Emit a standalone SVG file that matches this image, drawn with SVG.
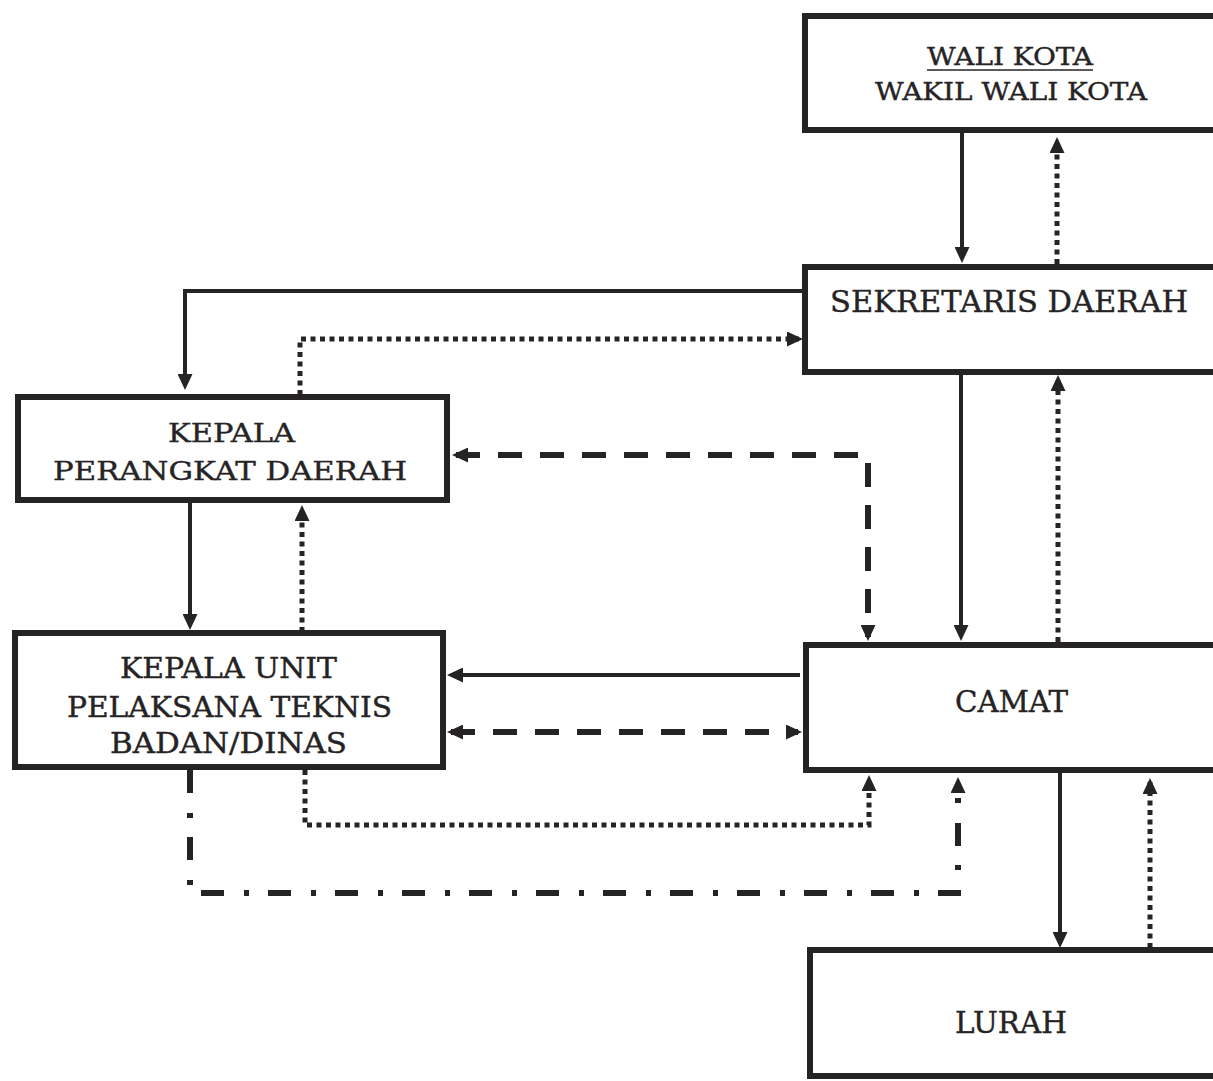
<svg xmlns="http://www.w3.org/2000/svg" width="1213" height="1081" viewBox="0 0 1213 1081">
<style>
.box{fill:#fff;stroke:#262324;stroke-width:6;stroke-linejoin:miter}
.t{font-family:"DejaVu Serif","Liberation Serif",serif;fill:#262324;stroke:#262324;stroke-width:0.4;text-anchor:middle}
.c{fill:none;stroke:#262324}
.solid{stroke-width:4}
.dot{stroke-width:5;stroke-dasharray:5 4.5}
.dash{stroke-width:6;stroke-dasharray:24 18}
.dd{stroke-width:6;stroke-dasharray:23 20 5 19}
.a{marker-end:url(#ah)}
.b{marker-start:url(#ah);marker-end:url(#ah)}
</style>
<defs>
<marker id="ah" markerUnits="userSpaceOnUse" markerWidth="16" markerHeight="15" refX="12" refY="7.5" orient="auto-start-reverse" viewBox="0 0 16 15">
<path d="M0,0 L16,7.5 L0,15 z" fill="#262324"/>
</marker>
</defs>
<rect width="1213" height="1081" fill="#fff"/>
<g id="connectors">
<path class="c solid a" d="M962,133 V259"/>
<path class="c dot a" d="M1057,264 V141"/>
<path class="c solid a" d="M803,291 H185 V386"/>
<path class="c dot a" d="M300,395 V339 H799"/>
<path class="c solid a" d="M961,373 V637"/>
<path class="c dot a" d="M1058,642 V379"/>
<path class="c dash b" d="M456,455 H868 V637"/>
<path class="c solid a" d="M190,503 V626"/>
<path class="c dot a" d="M302,632 V509"/>
<path class="c solid a" d="M800,675 H451"/>
<path class="c dash b" d="M451,732 H798"/>
<path class="c dot a" d="M305,770 V825 H869 V779"/>
<path class="c dd a" d="M190,770 V893 H958 V781"/>
<path class="c solid a" d="M1060,773 V944"/>
<path class="c dot a" d="M1150,948 V782"/>
</g>
<g id="wali-kota">
<rect class="box" x="805" y="16" width="430" height="114"/>
<text class="t" x="1010" y="65" font-size="25" textLength="166" lengthAdjust="spacingAndGlyphs">WALI KOTA</text>
<line x1="927" y1="70" x2="1093" y2="70" stroke="#262324" stroke-width="1.5"/>
<text class="t" x="1011" y="100" font-size="25" textLength="272" lengthAdjust="spacingAndGlyphs">WAKIL WALI KOTA</text>
</g>
<g id="sekretaris-daerah">
<rect class="box" x="805" y="267" width="430" height="105"/>
<text class="t" x="1009" y="312" font-size="30" textLength="358" lengthAdjust="spacingAndGlyphs">SEKRETARIS DAERAH</text>
</g>
<g id="kepala-perangkat-daerah">
<rect class="box" x="18" y="397" width="429" height="103"/>
<text class="t" x="231.5" y="442" font-size="26" textLength="127" lengthAdjust="spacingAndGlyphs">KEPALA</text>
<text class="t" x="230" y="480" font-size="26" textLength="354" lengthAdjust="spacingAndGlyphs">PERANGKAT DAERAH</text>
</g>
<g id="kepala-upt">
<rect class="box" x="15" y="633" width="428" height="134"/>
<text class="t" x="228.5" y="678" font-size="28" textLength="217" lengthAdjust="spacingAndGlyphs">KEPALA UNIT</text>
<text class="t" x="229.5" y="717" font-size="28" textLength="325" lengthAdjust="spacingAndGlyphs">PELAKSANA TEKNIS</text>
<text class="t" x="228.5" y="753" font-size="28" textLength="237" lengthAdjust="spacingAndGlyphs">BADAN/DINAS</text>
</g>
<g id="camat">
<rect class="box" x="806" y="645" width="430" height="125"/>
<text class="t" x="1011.5" y="712" font-size="30" textLength="113" lengthAdjust="spacingAndGlyphs">CAMAT</text>
</g>
<g id="lurah">
<rect class="box" x="810" y="950" width="426" height="126"/>
<text class="t" x="1011" y="1033" font-size="29" textLength="112" lengthAdjust="spacingAndGlyphs">LURAH</text>
</g>
</svg>
